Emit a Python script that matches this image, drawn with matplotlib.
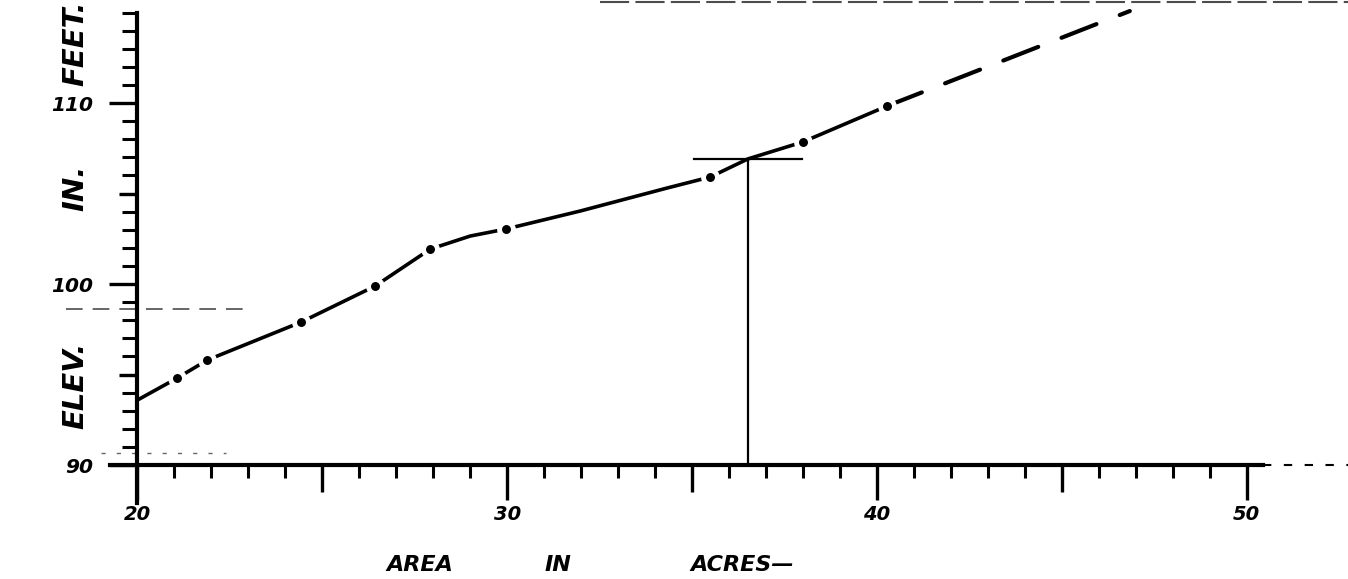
import matplotlib
matplotlib.use("Agg")
import matplotlib.pyplot as plt
from matplotlib.ticker import FixedLocator

# area-elevation curve
area = [20.0, 21.08, 21.89, 24.43, 26.43, 27.92, 29.0, 29.97, 31.97, 34.32, 35.49, 36.51, 38.0, 40.27]
elev = [93.59, 94.81, 95.80, 97.90, 99.89, 101.93, 102.65, 103.04, 104.03, 105.3, 105.91, 106.91, 107.85, 109.83]
# plotted points (dots on the curve)
dot_area = [21.08, 21.89, 24.43, 26.43, 27.92, 29.97, 35.49, 38.0, 40.27]
dot_elev = [94.81, 95.80, 97.90, 99.89, 101.93, 103.04, 105.91, 107.85, 109.83]
# dashed extrapolation
ext_area = [40.27, 46.84]
ext_elev = [109.83, 115.08]
# reading off the curve
read_area = 36.51
read_elev = 106.91

x_ticks = [20, 30, 40, 50]
y_ticks = [90, 100, 110]
x_labels = ['20', '30', '40', '50']
y_labels = ['90', '100', '110']

fig = plt.figure(figsize=(13.48, 5.79), dpi=100)
ax = fig.add_axes([0, 0, 1, 1])
ax.set_xlim(16.281, 52.742)
ax.set_ylim(83.702, 115.691)

hand = dict(fontweight='bold', fontstyle='italic', family='DejaVu Sans', color='black')

# axes drawn as spines through (20, 90)
for s in ['top', 'right']:
    ax.spines[s].set_visible(False)
ax.spines['left'].set_position(('data', 20))
ax.spines['bottom'].set_position(('data', 90))
ax.spines['left'].set_bounds(87.9, 115.0)
ax.spines['bottom'].set_bounds(19.26, 50.45)
ax.spines['left'].set_linewidth(3)
ax.spines['bottom'].set_linewidth(3)
ax.set_facecolor('white')

ax.xaxis.set_major_locator(FixedLocator(x_ticks))
ax.yaxis.set_major_locator(FixedLocator(y_ticks))
ax.xaxis.set_minor_locator(FixedLocator(list(range(21, 50))))
ax.yaxis.set_minor_locator(FixedLocator(list(range(91, 116))))
ax.set_xticklabels(x_labels, **hand, fontsize=14)
ax.set_yticklabels(y_labels, **hand, fontsize=14.5)
ax.tick_params(axis='x', which='major', direction='out', length=25, width=2.4, pad=4)
ax.tick_params(axis='x', which='minor', direction='out', length=9, width=2.2)
ax.tick_params(axis='y', which='major', direction='out', length=20, width=2.4, pad=12)
ax.tick_params(axis='y', which='minor', direction='out', length=11, width=2.2)

# half-way ticks a bit longer
ax.vlines([25, 35, 45], 90, 88.5, color='black', lw=2.4)
ax.hlines([95, 105], 20, 19.5, color='black', lw=2.4)

# dotted continuation of the area axis
ax.plot([50.45, 52.74], [90, 90], color='black', lw=1.5, ls=(0, (4, 6)))

# faint guide lines
ax.plot([18.07, 22.9], [98.62, 98.62], color='black', lw=1.2, ls=(0, (10, 6)), alpha=0.7)
ax.plot([19.0, 22.4], [90.66, 90.66], color='black', lw=1.0, ls=(0, (3, 8)), alpha=0.6)
ax.plot([32.5, 52.74], [115.6, 115.6], color='black', lw=1.5, ls=(0, (14, 3)), alpha=0.7)

# curve
ax.plot(area, elev, color='black', lw=2.6, solid_capstyle='round')
ax.plot(ext_area, ext_elev, color='black', lw=3, ls=(0, (9, 6)), dash_capstyle='round')
ax.plot(dot_area, dot_elev, ls='none', marker='o', ms=10, mfc='black',
        mec='white', mew=3.5)

# read-off lines
ax.plot([35.05, 37.97], [read_elev, read_elev], color='black', lw=1.6)
ax.plot([read_area, read_area], [90, read_elev], color='black', lw=1.6)

# axis titles, hand lettered
ax.text(18.31, 94.4, 'ELEV.', rotation=90, ha='center', va='center', fontsize=21, **hand)
ax.text(18.31, 105.3, 'IN.', rotation=90, ha='center', va='center', fontsize=21, **hand)
ax.text(18.31, 113.3, 'FEET.', rotation=90, ha='center', va='center', fontsize=21, **hand)
ax.text(27.64, 84.45, 'AREA', ha='center', va='center', fontsize=16, **hand)
ax.text(31.37, 84.45, 'IN', ha='center', va='center', fontsize=16, **hand)
ax.text(36.35, 84.45, 'ACRES—', ha='center', va='center', fontsize=16, **hand)

fig.savefig('out.png', dpi=100, facecolor='white')
